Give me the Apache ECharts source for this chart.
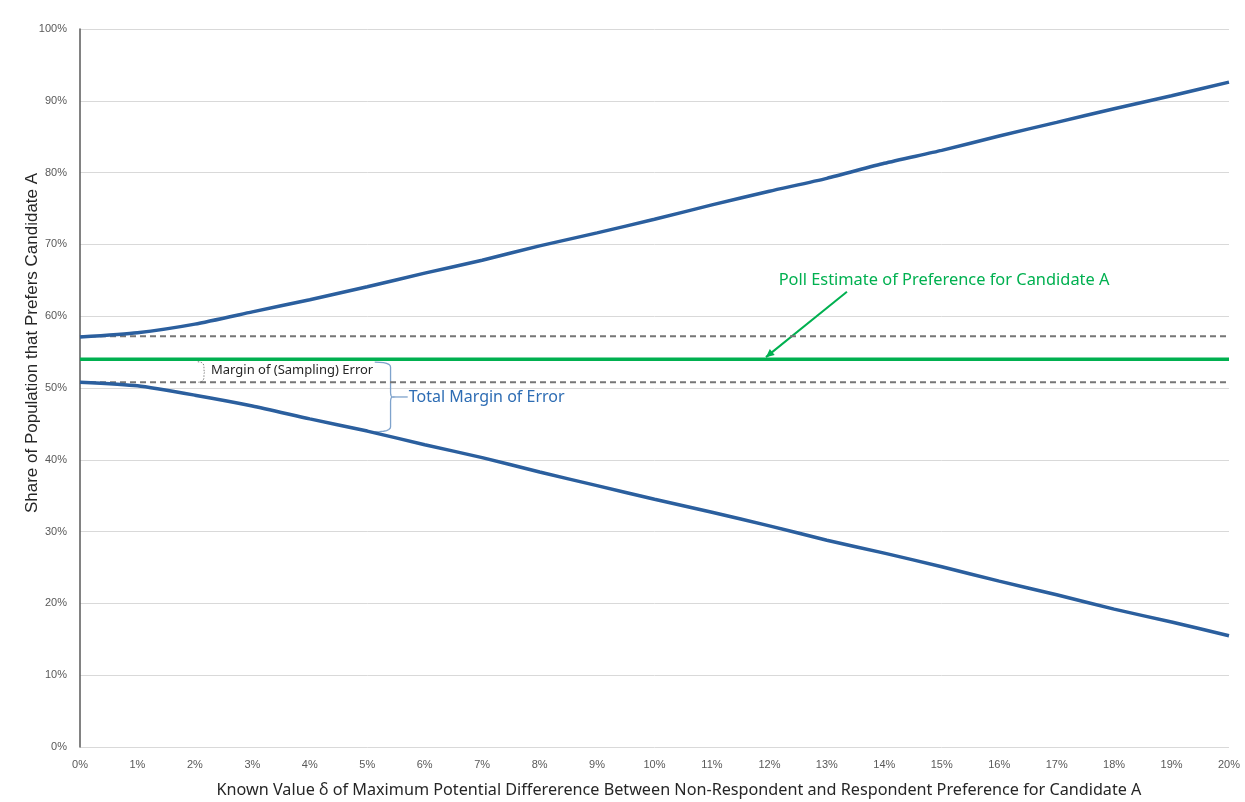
<!DOCTYPE html>
<html>
<head>
<meta charset="utf-8">
<script src="https://cdn.jsdelivr.net/npm/echarts@6/dist/echarts.min.js"></script>
<style>
  html, body { margin: 0; padding: 0; background: #fff; }
  #chart { width: 1245px; height: 802px; }
</style>
</head>
<body>
<div id="chart"></div>
<script>
// delta (%) on x axis
const deltas = [0, 1, 2, 3, 4, 5, 6, 7, 8, 9, 10, 11, 12, 13, 14, 15, 16, 17, 18, 19, 20];
// upper / lower bound of total margin of error (%)
const upperBound = [57.1, 57.7, 58.9, 60.6, 62.3, 64.1, 66.0, 67.8, 69.8, 71.6, 73.5, 75.5, 77.4, 79.2, 81.3, 83.1, 85.1, 87.0, 88.9, 90.7, 92.6];
const lowerBound = [50.8, 50.3, 49.0, 47.5, 45.7, 44.0, 42.1, 40.3, 38.3, 36.4, 34.5, 32.7, 30.8, 28.8, 27.0, 25.1, 23.1, 21.2, 19.2, 17.4, 15.5];
// poll estimate and sampling-error band
const pollEstimate = 54.0;
const samplingUpper = 57.2;
const samplingLower = 50.8;

const BLUE = '#2b5f9e';
const GREEN = '#00b050';
const FONT = 'Noto Sans';

const flat = v => [[0, v], [20, v]];

const chart = echarts.init(document.getElementById('chart'));
chart.setOption({
  animation: false,
  grid: { left: 80, right: 16, top: 29, bottom: 55 },
  xAxis: {
    type: 'value', min: 0, max: 20, interval: 1,
    axisLine: { show: false }, axisTick: { show: false },
    splitLine: { show: false },
    axisLabel: { formatter: '{value}%', color: '#595959', fontSize: 11, fontFamily: 'Liberation Sans', margin: 12 }
  },
  yAxis: {
    type: 'value', min: 0, max: 100, interval: 10,
    axisLine: { show: true, onZero: false, lineStyle: { color: '#595959', width: 1.5 } },
    axisTick: { show: false },
    splitLine: { lineStyle: { color: '#d9d9d9', width: 1 } },
    axisLabel: { formatter: '{value}%', color: '#595959', fontSize: 11, fontFamily: 'Liberation Sans', margin: 13 }
  },
  series: [
    { type: 'line', data: flat(samplingUpper), symbol: 'none', lineStyle: { color: '#767676', width: 2, type: [6, 4] } },
    { type: 'line', data: flat(samplingLower), symbol: 'none', lineStyle: { color: '#767676', width: 2, type: [6, 4] } },
    { type: 'line', data: flat(pollEstimate), symbol: 'none', lineStyle: { color: GREEN, width: 3.5 } },
    { type: 'line', data: deltas.map((d, i) => [d, upperBound[i]]), symbol: 'none', smooth: 0.2, lineStyle: { color: BLUE, width: 3.5 } },
    { type: 'line', data: deltas.map((d, i) => [d, lowerBound[i]]), symbol: 'none', smooth: 0.2, lineStyle: { color: BLUE, width: 3.5 } }
  ]
});

// annotations, placed in data coordinates
const px = (x, y) => chart.convertToPixel({ gridIndex: 0 }, [x, y]);

// right-facing curly brace "}" as polyline points
function quad(p0, c, p1, n) {
  const out = [];
  for (let i = 0; i <= n; i++) {
    const t = i / n, u = 1 - t;
    out.push([u * u * p0[0] + 2 * u * t * c[0] + t * t * p1[0], u * u * p0[1] + 2 * u * t * c[1] + t * t * p1[1]]);
  }
  return out;
}
function brace(x, y1, y2, w, tipY) {
  const x0 = px(x, 0)[0], top = px(0, y1)[1], bot = px(0, y2)[1], mid = px(0, tipY)[1];
  const xm = x0 + w * 0.88, xt = x0 + w, r = 5;
  return [].concat(
    quad([x0, top], [xm, top], [xm, top + r], 6),
    quad([xm, mid - r], [xm, mid], [xt, mid], 6),
    quad([xt, mid], [xm, mid], [xm, mid + r], 6),
    quad([xm, bot - r], [xm, bot], [x0, bot], 6)
  );
}

const arrowFrom = px(13.35, 63.4), arrowTo = px(11.94, 54.3);
const ang = Math.atan2(arrowTo[1] - arrowFrom[1], arrowTo[0] - arrowFrom[0]);
const head = 9, spread = 0.45;
const bigBraceX = 5.13, bigTipY = 48.75;
const bigTipX = px(bigBraceX, 0)[0] + 18;

chart.setOption({
  graphic: [
    {
      type: 'text', x: 32, y: 343, rotation: Math.PI / 2,
      style: { text: 'Share of Population that Prefers Candidate A', fill: '#262626', font: '17px "Liberation Sans"', align: 'center', verticalAlign: 'middle' }
    },
    {
      type: 'text', x: 679, y: 790,
      style: { text: 'Known Value δ of Maximum Potential Differerence Between Non-Respondent and Respondent Preference for Candidate A', fill: '#262626', font: '16.2px "' + FONT + '"', align: 'center', verticalAlign: 'middle' }
    },
    {
      type: 'text', x: px(15.04, 0)[0], y: px(0, 65.0)[1],
      style: { text: 'Poll Estimate of Preference for Candidate A', fill: GREEN, font: '16.4px "' + FONT + '"', align: 'center', verticalAlign: 'middle' }
    },
    {
      type: 'line', shape: { x1: arrowFrom[0], y1: arrowFrom[1], x2: arrowTo[0], y2: arrowTo[1] },
      style: { stroke: GREEN, lineWidth: 2 }
    },
    {
      type: 'polygon',
      shape: { points: [arrowTo,
        [arrowTo[0] - head * Math.cos(ang - spread), arrowTo[1] - head * Math.sin(ang - spread)],
        [arrowTo[0] - head * Math.cos(ang + spread), arrowTo[1] - head * Math.sin(ang + spread)]] },
      style: { fill: GREEN }
    },
    {
      type: 'polyline', shape: { points: brace(2.05, pollEstimate - 0.35, samplingLower, 7, (pollEstimate + samplingLower) / 2 - 0.2) },
      style: { stroke: '#7f7f7f', fill: null, lineWidth: 1, lineDash: [1.5, 1.5] }
    },
    {
      type: 'text', x: px(2.28, 0)[0], y: px(0, 52.4)[1],
      style: { text: 'Margin of (Sampling) Error', fill: '#262626', font: '13px "' + FONT + '"', align: 'left', verticalAlign: 'middle' }
    },
    {
      type: 'polyline', shape: { points: brace(bigBraceX, 53.6, 43.9, 18, bigTipY) },
      style: { stroke: '#7fa3cc', fill: null, lineWidth: 1.3 }
    },
    {
      type: 'line', shape: { x1: bigTipX, y1: px(0, bigTipY)[1], x2: bigTipX + 15, y2: px(0, bigTipY)[1] },
      style: { stroke: '#7fa3cc', lineWidth: 1.3 }
    },
    {
      type: 'text', x: bigTipX + 16, y: px(0, bigTipY)[1],
      style: { text: 'Total Margin of Error', fill: '#2e6db4', font: '16px "' + FONT + '"', align: 'left', verticalAlign: 'middle' }
    }
  ]
});
</script>
</body>
</html>
